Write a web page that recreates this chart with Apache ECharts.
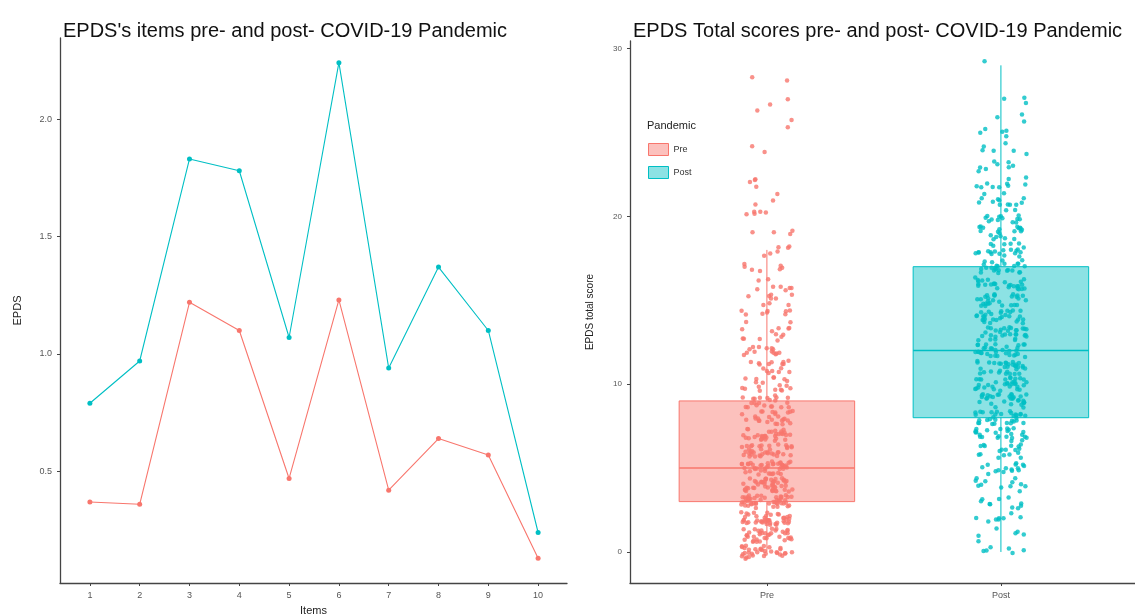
<!DOCTYPE html>
<html>
<head>
<meta charset="UTF-8">
<title>EPDS pre/post COVID-19</title>
<script src="https://cdn.jsdelivr.net/npm/echarts@6/dist/echarts.min.js"></script>
<style>
  body { margin: 0; background: #fff; }
  #chart { width: 1135px; height: 614px; }
</style>
</head>
<body>
<div id="chart"></div>
<script>
// left panel: mean score per EPDS item
var items = [1, 2, 3, 4, 5, 6, 7, 8, 9, 10];
var itemPre = [0.37, 0.36, 1.22, 1.10, 0.47, 1.23, 0.42, 0.64, 0.57, 0.13];
var itemPost = [0.79, 0.97, 1.83, 1.78, 1.07, 2.24, 0.94, 1.37, 1.10, 0.24];
var itemTicks = [0.5, 1.0, 1.5, 2.0];

// right panel: total score distribution (respondents per score 0..29)
var groups = ['Pre', 'Post'];
var scores = [0,1,2,3,4,5,6,7,8,9,10,11,12,13,14,15,16,17,18,19,20,21,22,23,24,25,26,27,28,29];
var preCounts = [34,38,44,48,48,44,38,32,27,22,18,16,14,12,10,9,8,7,6,4,5,3,4,0,2,1,2,2,2,0];
var postCounts = [6,6,8,10,12,15,18,25,32,32,33,33,33,31,30,28,27,26,22,20,15,13,10,8,6,5,3,3,0,1];
// boxplot stats: [lower whisker, Q1, median, Q3, upper whisker]
var preBox = [0, 3, 5, 9, 18];
var postBox = [0, 8, 12, 17, 29];
var totalTicks = [0, 10, 20, 30];

var RED = '#F8766D', TEAL = '#00BFC4';

// small deterministic hash, only used to scatter marks around their score (like geom_jitter)
function spread(n) {
  var v = Math.sin(n * 12.9898 + 78.233) * 43758.5453;
  return v - Math.floor(v);
}

function jitterPoints(counts, xCenter) {
  var pts = [], k = 0;
  for (var s = 0; s < scores.length; s++) {
    for (var c = 0; c < counts[s]; c++) {
      k++;
      var jx = (spread(k + xCenter * 1000) - 0.5) * 0.22;
      var jy = (spread(k * 3.1 + xCenter * 577) - 0.5) * 0.8;
      pts.push([xCenter + jx, scores[s] + jy]);
    }
  }
  return pts;
}

function renderBox(params, api) {
  var x = api.value(0);
  var lo = api.coord([x, api.value(1)]);
  var q1 = api.coord([x, api.value(2)]);
  var md = api.coord([x, api.value(3)]);
  var q3 = api.coord([x, api.value(4)]);
  var hi = api.coord([x, api.value(5)]);
  var half = api.size([0.75, 0])[0] / 2;
  var col = params.seriesName == 'Pre' ? RED : TEAL;
  var fill = params.seriesName == 'Pre' ? 'rgba(248,118,109,0.45)' : 'rgba(0,191,196,0.45)';
  var ls = { stroke: col, lineWidth: 1 };
  return {
    type: 'group',
    children: [
      { type: 'line', shape: { x1: lo[0], y1: lo[1], x2: q1[0], y2: q1[1] }, style: ls },
      { type: 'line', shape: { x1: q3[0], y1: q3[1], x2: hi[0], y2: hi[1] }, style: ls },
      { type: 'rect', shape: { x: q3[0] - half, y: q3[1], width: half * 2, height: q1[1] - q3[1] },
        style: { fill: fill, stroke: col, lineWidth: 1 } },
      { type: 'line', shape: { x1: md[0] - half, y1: md[1], x2: md[0] + half, y2: md[1] },
        style: { stroke: col, lineWidth: 1.5 } }
    ]
  };
}

var axisCommon = {
  axisLine: { onZero: false, lineStyle: { color: '#444', width: 1.3 } },
  axisTick: { show: true, length: 3, lineStyle: { color: '#444' } },
  axisLabel: { color: '#555', fontSize: 9, fontFamily: 'Liberation Sans' },
  splitLine: { show: false },
  nameTextStyle: { color: '#222', fontSize: 11, fontFamily: 'Liberation Sans' }
};

function ax(extra) {
  return echarts.util.merge(echarts.util.clone(axisCommon), extra, true);
}

var linePre = items.map(function (it, i) { return [it, itemPre[i]]; });
var linePost = items.map(function (it, i) { return [it, itemPost[i]]; });

var option = {
  backgroundColor: '#fff',
  animation: false,
  textStyle: { fontFamily: 'Liberation Sans' },
  title: [
    { text: "EPDS's items pre- and post- COVID-19 Pandemic", left: 58, top: 16,
      textStyle: { fontSize: 20, fontWeight: 'normal', color: '#111' } },
    { text: 'EPDS Total scores pre- and post- COVID-19 Pandemic', left: 628, top: 16,
      textStyle: { fontSize: 20, fontWeight: 'normal', color: '#111' } },
    { text: 'Pandemic', left: 642, top: 115,
      textStyle: { fontSize: 11, fontWeight: 'normal', color: '#222' } }
  ],
  legend: {
    data: [
      { name: 'Pre', itemStyle: { color: 'rgba(248,118,109,0.45)', borderColor: RED, borderWidth: 1 } },
      { name: 'Post', itemStyle: { color: 'rgba(0,191,196,0.45)', borderColor: TEAL, borderWidth: 1 } }
    ],
    orient: 'vertical', left: 643, top: 138,
    icon: 'rect', itemWidth: 20, itemHeight: 12, itemGap: 10,
    textStyle: { fontSize: 9, color: '#333' }
  },
  grid: [
    { left: 60, top: 38, width: 507, height: 545, outerBoundsMode: 'none' },
    { left: 630, top: 41, width: 505, height: 542, outerBoundsMode: 'none' }
  ],
  xAxis: [
    ax({ gridIndex: 0, type: 'value', min: 0.4, max: 10.58, name: 'Items',
      nameLocation: 'middle', nameGap: 22,
      axisTick: { customValues: items }, axisLabel: { customValues: items } }),
    ax({ gridIndex: 1, type: 'value', min: 0.415, max: 2.573,
      axisTick: { customValues: [1, 2] },
      axisLabel: { customValues: [1, 2], formatter: function (v) { return groups[Math.round(v) - 1]; } } })
  ],
  yAxis: [
    ax({ gridIndex: 0, type: 'value', min: 0.025, max: 2.345, name: 'EPDS',
      nameLocation: 'middle', nameGap: 37,
      axisTick: { customValues: itemTicks },
      axisLabel: { customValues: itemTicks, formatter: function (v) { return v.toFixed(1); } } }),
    ax({ gridIndex: 1, type: 'value', min: -1.85, max: 30.45, name: 'EPDS total score',
      nameLocation: 'middle', nameGap: 35, nameTextStyle: { fontSize: 10 },
      axisTick: { customValues: totalTicks }, axisLabel: { customValues: totalTicks, fontSize: 8 } })
  ],
  series: [
    { name: 'Pre items', type: 'line', xAxisIndex: 0, yAxisIndex: 0, data: linePre,
      symbol: 'circle', symbolSize: 5, color: RED, lineStyle: { width: 1.1 } },
    { name: 'Post items', type: 'line', xAxisIndex: 0, yAxisIndex: 0, data: linePost,
      symbol: 'circle', symbolSize: 5, color: TEAL, lineStyle: { width: 1.1 } },
    { name: 'Pre', type: 'custom', xAxisIndex: 1, yAxisIndex: 1, renderItem: renderBox,
      color: RED, encode: { x: 0, y: [1, 2, 3, 4, 5] }, data: [[1].concat(preBox)], z: 1 },
    { name: 'Post', type: 'custom', xAxisIndex: 1, yAxisIndex: 1, renderItem: renderBox,
      color: TEAL, encode: { x: 0, y: [1, 2, 3, 4, 5] }, data: [[2].concat(postBox)], z: 1 },
    { name: 'Pre', type: 'scatter', xAxisIndex: 1, yAxisIndex: 1, data: jitterPoints(preCounts, 1),
      symbolSize: 4.5, itemStyle: { color: RED }, z: 3 },
    { name: 'Post', type: 'scatter', xAxisIndex: 1, yAxisIndex: 1, data: jitterPoints(postCounts, 2),
      symbolSize: 4.5, itemStyle: { color: TEAL }, z: 3 }
  ]
};

var myChart = echarts.init(document.getElementById('chart'));
myChart.setOption(option);
</script>
</body>
</html>
